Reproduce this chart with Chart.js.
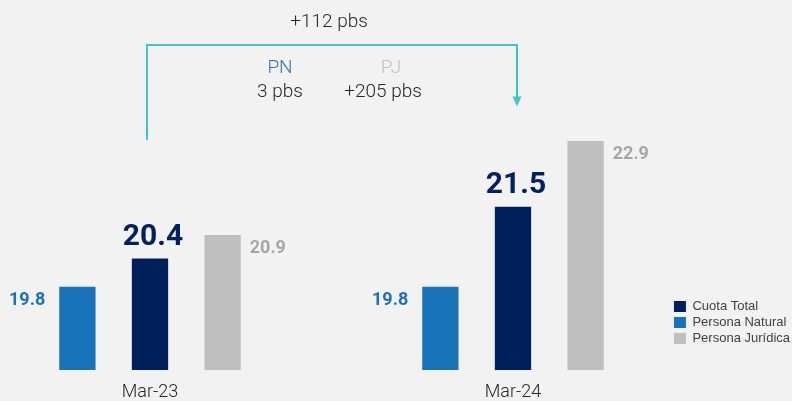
<!DOCTYPE html>
<html>
<head>
<meta charset="utf-8">
<script src="https://cdn.jsdelivr.net/npm/chart.js@4.4.1/dist/chart.umd.min.js"></script>
<style>
  html, body { margin: 0; padding: 0; background: #f2f2f2; }
  #wrap { width: 792px; height: 401px; }
</style>
</head>
<body>
<div id="wrap"><canvas id="cuotaChart" width="792" height="401"></canvas></div>
<script>
// Datos
const periods = ['Mar-23', 'Mar-24'];
const personaNatural = [19.8, 19.8];
const cuotaTotal = [20.4, 21.5];
const personaJuridica = [20.9, 22.9];
const legendOrder = ['Cuota Total', 'Persona Natural', 'Persona Jurídica'];
const deltaTotal = '+112 pbs';
const deltaPN = '3 pbs';
const deltaPJ = '+205 pbs';

const teal = '#3fc6c9';

// Etiquetas de valor junto a cada barra
const labelStyles = [
    { font: 'bold 18px Roboto', color: '#1f6fb3', align: 'right', dx: (b) => -b.width / 2 - 14, dy: 14 },
    { font: 'bold 30px Roboto', color: '#002060', align: 'center', dx: () => 3, dy: -21 },
    { font: 'bold 18px Roboto', color: '#a6a6a6', align: 'left', dx: (b) => b.width / 2 + 9, dy: 13 },
];

const valueLabels = {
    id: 'valueLabels',
    afterDatasetsDraw(chart) {
        const ctx = chart.ctx;
        chart.data.datasets.forEach((ds, i) => {
            const st = labelStyles[i];
            chart.getDatasetMeta(i).data.forEach((bar, j) => {
                ctx.save();
                ctx.font = st.font;
                ctx.fillStyle = st.color;
                ctx.textAlign = st.align;
                ctx.textBaseline = 'middle';
                ctx.fillText(ds.data[j].y.toFixed(1), bar.x + st.dx(bar), bar.y + st.dy);
                ctx.restore();
            });
        });
    }
};

// Corchete con flecha y variaciones en pbs
const bracket = {
    id: 'bracket',
    afterDraw(chart) {
        const ctx = chart.ctx;
        const xs = chart.scales.x;
        const x0 = xs.getPixelForValue(0) - 3;
        const x1 = xs.getPixelForValue(1) + 4;
        const mid = (x0 + x1) / 2;
        ctx.save();
        ctx.strokeStyle = teal;
        ctx.lineWidth = 2;
        ctx.beginPath();
        ctx.moveTo(x0, 140);
        ctx.lineTo(x0, 45);
        ctx.lineTo(x1, 45);
        ctx.lineTo(x1, 98);
        ctx.stroke();
        ctx.fillStyle = teal;
        ctx.beginPath();
        ctx.moveTo(x1 - 4.5, 96.5);
        ctx.lineTo(x1 + 4.5, 96.5);
        ctx.lineTo(x1, 106.5);
        ctx.closePath();
        ctx.fill();

        ctx.textAlign = 'center';
        ctx.textBaseline = 'alphabetic';
        ctx.font = '300 19px Roboto';
        ctx.fillStyle = '#262626';
        ctx.fillText(deltaTotal, mid - 3, 27);
        ctx.fillStyle = '#2e75b6';
        ctx.fillText('PN', mid - 52, 73);
        ctx.fillStyle = '#bfbfbf';
        ctx.fillText('PJ', mid + 59, 73);
        ctx.fillStyle = '#262626';
        ctx.fillText(deltaPN, mid - 52, 96.5);
        ctx.fillText(deltaPJ, mid + 51, 96.5);
        ctx.restore();
    }
};

// Mueve la leyenda hacia arriba y a la derecha, como en el original
const legendShift = {
    id: 'legendShift',
    afterLayout(chart) {
        const lg = chart.legend;
        const shift = Math.round(lg.bottom - 348);
        lg.top -= shift;
        lg.bottom -= shift;
        lg.left += 8;
        lg.right += 8;
    }
};

const toPoints = (arr) => arr.map((v, i) => ({ x: i, y: v }));

new Chart(document.getElementById('cuotaChart'), {
    type: 'bar',
    data: {
        datasets: [
            { label: 'Persona Natural', data: toPoints(personaNatural), backgroundColor: '#1a73b8' },
            { label: 'Cuota Total', data: toPoints(cuotaTotal), backgroundColor: '#00205b' },
            { label: 'Persona Jurídica', data: toPoints(personaJuridica), backgroundColor: '#bfbfbf' },
        ],
    },
    options: {
        responsive: false,
        animation: false,
        categoryPercentage: 0.6,
        barPercentage: 0.5,
        layout: { padding: { top: 0, left: 0, right: 0, bottom: -13 } },
        plugins: {
            tooltip: { enabled: false },
            legend: {
                position: 'right',
                align: 'end',
                labels: {
                    font: { family: 'Liberation Sans', size: 13 },
                    color: '#404040',
                    boxWidth: 12,
                    boxHeight: 11,
                    padding: 3,
                    sort: (a, b) => legendOrder.indexOf(a.text) - legendOrder.indexOf(b.text),
                },
            },
        },
        scales: {
            x: {
                type: 'linear',
                offset: false,
                min: -0.4132,
                max: 1.4131,
                grid: { display: false, drawTicks: false },
                border: { display: false },
                afterBuildTicks: (axis) => { axis.ticks = periods.map((p, i) => ({ value: i })); },
                ticks: {
                    padding: 11.2,
                    font: { family: 'Roboto', size: 18, weight: 300 },
                    color: '#262626',
                    callback: (v) => periods[v],
                },
            },
            y: {
                display: false,
                min: 18.03,
                max: 25.90,
            },
        },
    },
    plugins: [valueLabels, bracket, legendShift],
});
</script>
</body>
</html>
